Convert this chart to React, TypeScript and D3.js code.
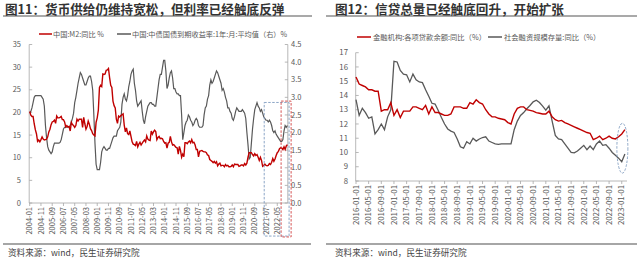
import React from "react";
import * as d3 from "d3";

// ---------- Left chart data (monthly, 2004-01 .. 2023-02) ----------
const m2Yoy: number[] = [
  20.2, 19.4, 19.1, 19.1, 17.5, 16.2, 15.3, 13.6, 13.9, 13.5, 14.0, 14.6,
  14.1, 13.9, 14.0, 14.1, 14.6, 15.7, 16.3, 17.3, 17.9, 18.0, 18.3, 17.6,
  19.2, 18.8, 18.8, 18.9, 19.1, 18.4, 18.4, 17.9, 16.8, 17.1, 16.8, 16.9,
  15.9, 17.8, 17.3, 17.1, 16.7, 17.1, 18.5, 18.1, 18.5, 18.5, 18.5, 16.7,
  18.9, 17.5, 16.3, 16.9, 18.1, 17.4, 16.4, 16.0, 15.3, 15.0, 14.8, 17.8,
  18.8, 20.5, 25.5, 26.0, 25.7, 28.5, 28.4, 28.5, 29.3, 29.4, 29.7, 27.7,
  26.0, 25.5, 22.5, 21.5, 21.0, 18.5, 17.6, 19.2, 19.0, 19.3, 19.5, 19.7,
  17.2, 15.7, 16.6, 15.3, 15.1, 15.9, 14.7, 13.5, 13.0, 12.9, 12.7, 13.6,
  12.4, 13.0, 13.4, 12.8, 13.2, 13.6, 13.9, 13.5, 14.8, 14.1, 13.9, 13.8,
  15.9, 15.2, 15.7, 16.1, 15.8, 14.0, 14.5, 14.7, 14.2, 14.3, 14.2, 13.6,
  13.2, 13.3, 12.1, 13.2, 13.4, 14.7, 13.5, 12.8, 12.9, 12.6, 12.3, 12.2,
  10.8, 12.5, 11.6, 10.1, 10.8, 10.2, 13.3, 13.3, 13.1, 13.5, 13.7, 13.3,
  14.0, 13.3, 13.4, 12.8, 11.8, 11.8, 10.2, 11.4, 11.5, 11.6, 11.4, 11.3,
  11.3, 11.1, 10.6, 10.5, 9.6, 9.4, 9.2, 8.9, 9.2, 8.8, 9.1, 8.2,
  8.6, 8.8, 8.2, 8.3, 8.3, 8.0, 8.5, 8.2, 8.3, 8.0, 8.0, 8.1,
  8.4, 8.0, 8.6, 8.5, 8.5, 8.5, 8.1, 8.2, 8.4, 8.4, 8.2, 8.7,
  8.4, 8.8, 10.1, 11.1, 11.1, 11.1, 10.7, 10.4, 10.9, 10.5, 10.7, 10.1,
  9.4, 10.1, 9.4, 8.1, 8.3, 8.6, 8.3, 8.2, 8.3, 8.7, 8.5, 9.0,
  9.8, 9.2, 9.7, 10.5, 11.1, 11.4, 12.0, 12.2, 12.1, 11.8, 12.4, 11.8,
  12.6, 12.9,
];

const yield1y: number[] = [
  2.55, 2.6, 2.7, 2.85, 3.0, 3.05, 3.05, 3.05, 3.05, 3.05, 3.05, 3.0,
  2.95, 2.75, 2.2, 1.85, 1.6, 1.5, 1.45, 1.4, 1.45, 1.6, 1.7, 1.7,
  1.7, 1.7, 1.7, 1.72, 1.8, 1.95, 2.1, 2.15, 2.15, 2.15, 2.15, 2.15,
  2.2, 2.3, 2.4, 2.55, 2.85, 3.0, 3.2, 3.4, 3.55, 3.7, 3.65, 3.55,
  3.45, 3.35, 3.35, 3.45, 3.55, 3.6, 3.6, 3.45, 3.2, 2.5, 1.7, 1.1,
  0.95, 0.95, 0.95, 1.15, 1.45, 1.55, 1.6, 1.55, 1.5, 1.5, 1.55, 1.55,
  1.65, 1.75, 1.85, 1.9, 1.9, 1.9, 2.05, 2.1, 2.15, 2.3, 2.8, 3.0,
  3.1, 2.95, 2.9, 3.05, 3.3, 3.45, 3.65, 3.75, 3.8, 3.4, 3.2, 2.9,
  2.75, 2.8, 2.85, 2.9, 2.6, 2.35, 2.25, 2.45, 2.6, 2.75, 2.8, 2.85,
  2.85, 2.8, 2.8, 2.75, 2.75, 3.0, 3.25, 3.5, 3.65, 3.65, 3.85, 4.05,
  4.05, 3.75, 3.25, 3.35, 3.55, 3.7, 3.75, 3.55, 3.25, 3.25, 3.15, 3.1,
  3.1, 3.05, 3.05, 2.5, 1.8, 2.0, 2.2, 2.3, 2.35, 2.5, 2.45, 2.35,
  2.3, 2.2, 2.25, 2.35, 2.4, 2.35, 2.2, 2.15, 2.15, 2.15, 2.2, 2.5,
  2.7, 2.75, 2.95, 3.05, 3.35, 3.5, 3.4, 3.45, 3.55, 3.65, 3.75, 3.7,
  3.6, 3.5, 3.4, 3.2, 3.25, 3.15, 3.0, 2.9, 2.7, 2.7, 2.6, 2.55,
  2.4, 2.35, 2.45, 2.6, 2.7, 2.65, 2.6, 2.6, 2.6, 2.65, 2.6, 2.55,
  2.4, 2.0, 1.65, 1.25, 1.3, 1.7, 2.1, 2.4, 2.65, 2.75, 2.85, 2.75,
  2.7, 2.6, 2.65, 2.55, 2.45, 2.4, 2.35, 2.35, 2.3, 2.35, 2.3, 2.2,
  2.05, 2.0, 2.05, 1.95, 1.9, 1.85, 1.8, 1.75, 1.75, 1.8, 2.05, 2.2,
  2.15, 2.2,
];

const leftXTicks: string[] = [
  "2004-01", "2004-11", "2005-09", "2006-07", "2007-05", "2008-03", "2009-01", "2009-11",
  "2010-09", "2011-07", "2012-05", "2013-03", "2014-01", "2014-11", "2015-09", "2016-07",
  "2017-05", "2018-03", "2019-01", "2019-11", "2020-09", "2021-07", "2022-05",
];
const leftYTicks: number[] = [0, 5, 10, 15, 20, 25, 30, 35];
const rightYTicksL: number[] = [0, 0.5, 1, 1.5, 2, 2.5, 3, 3.5, 4, 4.5];

// ---------- Right chart data (monthly, 2016-01 .. 2023-02) ----------
const loanYoy: number[] = [
  15.3, 14.8, 14.7, 14.6, 14.4, 14.4, 14.3, 14.3, 12.9, 13.0, 13.0, 13.5,
  12.6, 13.0, 12.45, 12.9, 12.9, 12.9, 13.2, 13.2, 13.1, 13.0, 13.3, 12.7,
  13.2, 12.8, 12.8, 12.7, 12.6, 12.6, 12.7, 13.2, 13.2, 13.2, 13.1, 13.1,
  13.5, 13.4, 13.7, 13.5, 13.4, 13.0, 12.7, 12.5, 12.5, 12.4, 12.35, 12.3,
  12.1, 12.0, 12.7, 13.1, 13.2, 13.2, 13.0, 12.95, 12.9, 12.8, 12.75, 12.7,
  12.7, 12.9, 12.5, 12.3, 12.2, 12.25, 12.1, 12.0, 11.9, 11.8, 11.7, 11.6,
  11.5, 11.4, 11.35, 10.9, 11.0, 11.15, 10.9, 11.0, 11.15, 11.0, 10.95, 11.1,
  11.3, 11.6,
];
const tsfYoy: number[] = [
  13.7, 12.6, 13.1, 12.8, 12.4, 12.5, 11.3, 11.6, 12.0, 11.6, 12.5, 13.0,
  16.4, 16.35, 15.75, 15.5, 15.45, 14.95, 15.5, 15.1, 14.95, 14.9, 14.4, 13.95,
  13.45, 13.4, 12.95, 12.45, 12.0, 11.65, 11.5, 11.4, 10.95, 10.4, 10.3, 10.75,
  10.6, 11.0, 10.8, 10.95, 11.05, 11.1, 10.8, 10.7, 10.6, 10.57, 10.6, 10.6,
  10.6, 10.6, 11.6, 12.2, 12.6, 12.8, 13.07, 13.3, 13.55, 13.67, 13.5, 13.25,
  12.97, 13.27, 12.2, 11.2, 10.95, 10.9, 10.6, 10.3, 10.0, 9.97, 10.1, 10.3,
  10.5, 10.2, 10.45, 10.2, 10.6, 10.8, 10.5, 10.55, 10.3, 10.0, 9.8, 9.6,
  9.35, 9.9,
];
const rightXTicks: string[] = [
  "2016-01-01", "2016-05-01", "2016-09-01", "2017-01-01", "2017-05-01", "2017-09-01",
  "2018-01-01", "2018-05-01", "2018-09-01", "2019-01-01", "2019-05-01", "2019-09-01",
  "2020-01-01", "2020-05-01", "2020-09-01", "2021-01-01", "2021-05-01", "2021-09-01",
  "2022-01-01", "2022-05-01", "2022-09-01", "2023-01-01",
];
const rYTicks: number[] = [8, 9, 10, 11, 12, 13, 14, 15, 16, 17];

// annotation boxes (month index, left-axis value)
const blueBox = { m0: 208.4, m1: 230.5, v0: -7.3, v1: 22.2 };
const redBox = { m0: 223.4, m1: 232.3, v0: -7.5, v1: 22.5 };
const ellipseAnn = { m: 84.2, v: 10.3, vr: 1.75 };

const FONT = "'Noto Sans CJK SC', 'Noto Sans', sans-serif";
const RED = "#C00000";
const GRAY = "#595959";
const AXIS = "#A6A6A6";
const LABEL = "#595959";

function monthIdx(label: string, baseYear: number) {
  const [y, m] = label.split("-").map(Number);
  return (y - baseYear) * 12 + (m - 1);
}

function LeftChart() {
  const x = d3.scaleLinear().domain([0, m2Yoy.length - 1]).range([29.7, 287.4]);
  const yL = d3.scaleLinear().domain([0, 35]).range([203, 44.5]);
  const yR = d3.scaleLinear().domain([0, 4.5]).range([203, 44.5]);
  const lineL = d3.line<number>().x((_, i) => x(i)).y((d) => yL(d));
  const lineR = d3.line<number>().x((_, i) => x(i)).y((d) => yR(d));
  const axL = 29.2;
  const axR = 287.8;
  return (
    <g>
      <text x={5} y={14} fontSize={12.6} fontWeight="bold" fill="#333" fontFamily={FONT}>
        图11：货币供给仍维持宽松，但利率已经触底反弹
      </text>
      <line x1={3} x2={312} y1={16} y2={16} stroke="#555" strokeWidth={1.2} />
      {/* legend */}
      <line x1={39} x2={52} y1={34} y2={34} stroke={RED} strokeWidth={1.5} />
      <text x={53} y={36.5} fontSize={7.2} fill={LABEL} fontFamily={FONT}>中国:M2:同比 %</text>
      <line x1={117} x2={131} y1={34} y2={34} stroke={GRAY} strokeWidth={1.5} />
      <text x={132} y={36.5} fontSize={7.2} fill={LABEL} fontFamily={FONT}>
        中国:中债国债到期收益率:1年:月:平均值（右）%
      </text>
      {/* axes */}
      <line x1={axL} x2={axL} y1={44.5} y2={203} stroke={AXIS} strokeWidth={0.8} />
      <line x1={axR} x2={axR} y1={44.5} y2={203} stroke={AXIS} strokeWidth={0.8} />
      <line x1={axL} x2={axR} y1={203} y2={203} stroke={AXIS} strokeWidth={0.8} />
      {leftYTicks.map((t) => (
        <g key={"l" + t}>
          <line x1={axL} x2={axL + 3} y1={yL(t)} y2={yL(t)} stroke={AXIS} strokeWidth={0.8} />
          <text x={21} y={yL(t)} dy="0.35em" textAnchor="end" fontSize={7.5} fill={LABEL} fontFamily={FONT}>
            {t}
          </text>
        </g>
      ))}
      {rightYTicksL.map((t) => (
        <g key={"r" + t}>
          <line x1={axR - 3} x2={axR} y1={yR(t)} y2={yR(t)} stroke={AXIS} strokeWidth={0.8} />
          <text x={291} y={yR(t)} dy="0.35em" textAnchor="start" fontSize={7.5} fill={LABEL} fontFamily={FONT}>
            {t.toFixed(1)}
          </text>
        </g>
      ))}
      {leftXTicks.map((lab) => {
        const xx = x(monthIdx(lab, 2004));
        return (
          <g key={lab}>
            <line x1={xx} x2={xx} y1={203} y2={206} stroke={AXIS} strokeWidth={0.8} />
            <text
              transform={`translate(${xx},${207}) rotate(-90)`}
              dy="0.35em"
              textAnchor="end"
              fontSize={7.5}
              fill={LABEL}
              fontFamily={FONT}
            >
              {lab}
            </text>
          </g>
        );
      })}
      <path d={lineR(yield1y) || ""} fill="none" stroke={GRAY} strokeWidth={1.2} />
      <path d={lineL(m2Yoy) || ""} fill="none" stroke={RED} strokeWidth={1.4} />
      {/* annotation boxes */}
      <rect
        x={x(blueBox.m0)}
        y={yL(blueBox.v1)}
        width={x(blueBox.m1) - x(blueBox.m0)}
        height={yL(blueBox.v0) - yL(blueBox.v1)}
        fill="none"
        stroke="#7F9CC0"
        strokeWidth={0.9}
        strokeDasharray="2.5,1.5"
      />
      <rect
        x={x(redBox.m0)}
        y={yL(redBox.v1)}
        width={x(redBox.m1) - x(redBox.m0)}
        height={yL(redBox.v0) - yL(redBox.v1)}
        fill="none"
        stroke="#D04040"
        strokeWidth={0.9}
        strokeDasharray="2.5,1.5"
      />
      <line x1={3} x2={311} y1={244} y2={244} stroke="#888" strokeWidth={1.5} />
      <text x={8} y={256} fontSize={8.6} fill="#444" fontFamily={FONT}>资料来源：wind，民生证券研究院</text>
    </g>
  );
}

function RightChart() {
  const x = d3.scaleLinear().domain([0, loanYoy.length - 1]).range([356, 624.9]);
  const y = d3.scaleLinear().domain([8, 17]).range([181, 52.7]);
  const line = d3.line<number>().x((_, i) => x(i)).y((d) => y(d));
  const axL = 355.7;
  return (
    <g>
      <text x={335} y={14} fontSize={12.6} fontWeight="bold" fill="#333" fontFamily={FONT}>
        图12：信贷总量已经触底回升，开始扩张
      </text>
      <line x1={326} x2={637} y1={16} y2={16} stroke="#555" strokeWidth={1.2} />
      <line x1={357} x2={371} y1={37} y2={37} stroke={RED} strokeWidth={1.5} />
      <text x={373} y={39.5} fontSize={7.3} fill={LABEL} fontFamily={FONT}>金融机构:各项贷款余额:同比（%）</text>
      <line x1={488} x2={502} y1={37} y2={37} stroke={GRAY} strokeWidth={1.5} />
      <text x={504} y={39.5} fontSize={7.3} fill={LABEL} fontFamily={FONT}>社会融资规模存量:同比（%）</text>
      <line x1={axL} x2={axL} y1={52.7} y2={181} stroke={AXIS} strokeWidth={0.8} />
      <line x1={axL} x2={627} y1={181} y2={181} stroke={AXIS} strokeWidth={0.8} />
      {rYTicks.map((t) => (
        <g key={t}>
          <line x1={axL} x2={axL + 3} y1={y(t)} y2={y(t)} stroke={AXIS} strokeWidth={0.8} />
          <text x={348} y={y(t)} dy="0.35em" textAnchor="end" fontSize={7.8} fill={LABEL} fontFamily={FONT}>
            {t}
          </text>
        </g>
      ))}
      {rightXTicks.map((lab) => {
        const xx = x(monthIdx(lab, 2016));
        return (
          <g key={lab}>
            <line x1={xx} x2={xx} y1={181} y2={184} stroke={AXIS} strokeWidth={0.8} />
            <text
              transform={`translate(${xx},${185}) rotate(-90)`}
              dy="0.35em"
              textAnchor="end"
              fontSize={7.8}
              fill={LABEL}
              fontFamily={FONT}
            >
              {lab}
            </text>
          </g>
        );
      })}
      <path d={line(tsfYoy) || ""} fill="none" stroke={GRAY} strokeWidth={1.3} />
      <path d={line(loanYoy) || ""} fill="none" stroke={RED} strokeWidth={1.4} />
      <ellipse
        cx={x(ellipseAnn.m)}
        cy={y(ellipseAnn.v)}
        rx={5.5}
        ry={y(ellipseAnn.v - ellipseAnn.vr) - y(ellipseAnn.v)}
        fill="none"
        stroke="#7F9CC0"
        strokeWidth={0.9}
        strokeDasharray="2.5,1.5"
      />
      <line x1={326} x2={637} y1={244} y2={244} stroke="#888" strokeWidth={1.5} />
      <text x={335} y={256} fontSize={8.6} fill="#444" fontFamily={FONT}>资料来源：wind，民生证券研究院</text>
    </g>
  );
}

export default function App() {
  return (
    <svg
      width={640}
      height={261}
      style={{ position: "absolute", left: 0, top: 0, background: "#fff" }}
    >
      <rect width={640} height={261} fill="#fff" />
      <LeftChart />
      <RightChart />
    </svg>
  );
}
